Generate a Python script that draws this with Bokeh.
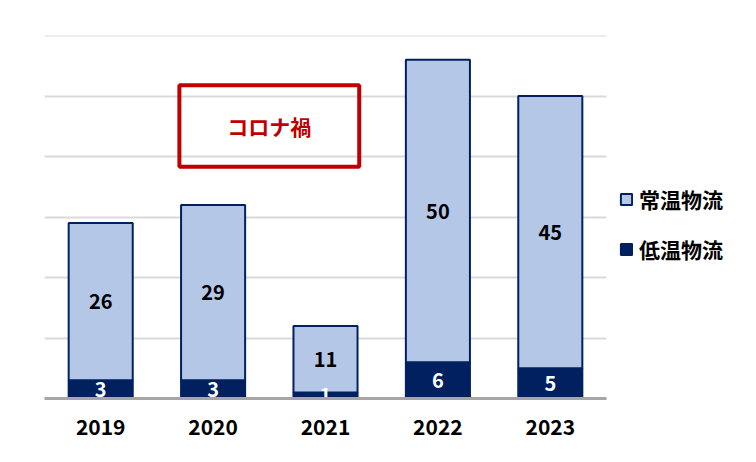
from bokeh.plotting import figure
from bokeh.models import (ColumnDataSource, FactorRange, Range1d, Legend, LegendItem,
                          BoxAnnotation, Label, SingleIntervalTicker)
from bokeh.core.properties import value
from bokeh.embed import file_html
from bokeh.resources import INLINE

years = ["2019", "2020", "2021", "2022", "2023"]
low_temp = [3, 3, 1, 6, 5]        # 低温物流
normal_temp = [26, 29, 11, 50, 45]  # 常温物流
series_names = ["低温物流", "常温物流"]

NAVY = "#002060"
LIGHT = "#b4c7e7"
RED = "#c00000"
FONT = "Noto Sans CJK JP"

src = ColumnDataSource(dict(
    years=years,
    low=low_temp,
    normal=normal_temp,
    low_mid=[v / 2 for v in low_temp],
    normal_mid=[l + n / 2 for l, n in zip(low_temp, normal_temp)],
    low_txt=[str(v) for v in low_temp],
    normal_txt=[str(v) for v in normal_temp],
))

p = figure(frame_width=562, frame_height=363, x_range=FactorRange(*years), y_range=Range1d(0, 60.02),
           output_backend="svg", toolbar_location=None,
           min_border_left=44, min_border_right=140, min_border_top=35, min_border_bottom=60)
p.outline_line_color = None
p.background_fill_color = "white"

r_low, r_norm = p.vbar_stack(["low", "normal"], x="years", width=0.57, source=src,
                             fill_color=[NAVY, LIGHT], line_color=NAVY, line_width=2)

p.text(x="years", y="normal_mid", text="normal_txt", source=src,
       text_align="center", text_baseline="middle", text_color="black",
       text_font=value(FONT), text_font_size="20px", text_font_style="bold")
p.text(x="years", y="low_mid", text="low_txt", source=src,
       text_align="center", text_baseline="middle", text_color="white",
       text_font=value(FONT), text_font_size="20px", text_font_style="bold")

# annotation box
p.add_layout(BoxAnnotation(left=1.2, right=2.8, bottom=38.3, top=51.8,
                           fill_alpha=0, line_color=RED, line_alpha=1, line_width=4))
p.add_layout(Label(x=2.0, y=45, text="コロナ禍", text_align="center", text_baseline="middle",
                   text_color=RED, text_font=FONT, text_font_size="21px", text_font_style="bold"))

# axes / grid
p.yaxis.visible = False
p.yaxis.ticker = SingleIntervalTicker(interval=10)
p.ygrid.ticker = SingleIntervalTicker(interval=10)
p.ygrid.grid_line_color = "#d9d9d9"
p.ygrid.grid_line_width = 2
p.xgrid.grid_line_color = None
p.xaxis.axis_line_color = "#a6a6a6"
p.xaxis.axis_line_width = 3
p.xaxis.major_tick_line_color = None
p.xaxis.major_tick_out = 0
p.xaxis.major_tick_in = 0
p.xaxis.minor_tick_line_color = None
p.xaxis.major_label_text_font = FONT
p.xaxis.major_label_text_font_size = "21px"
p.xaxis.major_label_text_font_style = "bold"
p.xaxis.major_label_text_color = "black"
p.xaxis.major_label_standoff = 20

legend = Legend(items=[LegendItem(label=series_names[1], renderers=[r_norm]),
                       LegendItem(label=series_names[0], renderers=[r_low])],
                location=(13, 134), orientation="vertical",
                glyph_width=14, glyph_height=14, label_standoff=6, label_height=20,
                label_text_font=FONT, label_text_font_size="21px", label_text_color="black",
                label_text_font_style="bold",
                spacing=20, padding=0, margin=0,
                border_line_color=None, background_fill_alpha=0)
p.add_layout(legend, "right")

open("out.html", "w").write(file_html(p, INLINE))
